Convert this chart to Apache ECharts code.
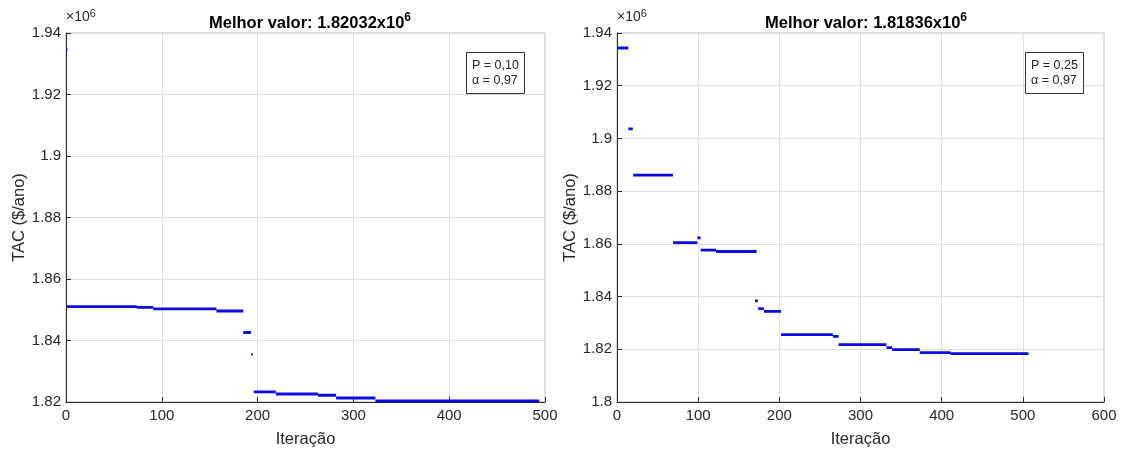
<!DOCTYPE html>
<html><head><meta charset="utf-8">
<script src="https://cdn.jsdelivr.net/npm/echarts@6/dist/echarts.min.js"></script>
<style>html,body{margin:0;padding:0;background:#fff}#c{width:1122px;height:453px}</style>
</head><body><div id="c"></div>
<script>
// Left run (P = 0,10): horizontal segments [start, end, value (x10^6)]
const leftStart = [0, 1, 74, 91, 157, 185, 193.5, 196, 219, 263, 282, 323];
const leftEnd   = [1.5, 74, 91, 157, 185, 193, 195, 219, 263, 282, 323, 494];
const leftVal   = [1.9345, 1.8510, 1.8508, 1.8503, 1.8496, 1.8426, 1.8355, 1.8233, 1.8226, 1.8222, 1.8213, 1.82032];
// Right run (P = 0,25)
const rightStart = [0, 14, 20, 69, 99, 103, 122, 170, 174, 181, 202, 266, 273, 332, 339, 373, 411];
const rightEnd   = [14, 19.5, 69, 99, 103, 122, 172, 173.5, 181, 202, 266, 273, 332, 339, 373, 411, 507];
const rightVal   = [1.9343, 1.9036, 1.8861, 1.8605, 1.8623, 1.8576, 1.8571, 1.8384, 1.8354, 1.8344, 1.8256, 1.8249, 1.8218, 1.8206, 1.8199, 1.8187, 1.81836];
// Axis ticks [min, max, interval]
const leftXTicks = [0, 500, 100];
const leftYTicks = [1.82, 1.94, 0.02];
const rightXTicks = [0, 600, 100];
const rightYTicks = [1.80, 1.94, 0.02];
const titles = ['1.82032', '1.81836'];
const boxes = ['P = 0,10\nα = 0,97', 'P = 0,25\nα = 0,97'];

function build(s, e, v) {
  const d = [];
  for (let i = 0; i < s.length; i++) {
    d.push([s[i], v[i]]);
    d.push([e[i], v[i]]);
    d.push([e[i], '-']);
  }
  return d;
}
const grids = [
  {left: 66, width: 479, top: 33, height: 373},
  {left: 617, width: 487, top: 33, height: 373}
];
const axisCol = '#262626';
const ff = 'Liberation Sans';
const fmt = v => String(parseFloat(v.toFixed(2)));
function xAx(i, t) {
  return {type: 'value', gridIndex: i, min: t[0], max: t[1], interval: t[2],
    name: 'Iteração', nameLocation: 'middle', nameGap: 29,
    nameTextStyle: {fontSize: 16.5, color: axisCol, fontFamily: ff},
    axisLine: {show: true, lineStyle: {color: axisCol, width: 1}},
    axisTick: {show: true, inside: true, length: 5, lineStyle: {color: axisCol}},
    axisLabel: {fontSize: 15, color: axisCol, margin: 6, fontFamily: ff},
    splitLine: {show: true, lineStyle: {color: '#dedede', width: 1}}};
}
function yAx(i, t) {
  return {type: 'value', gridIndex: i, min: t[0], max: t[1], interval: t[2],
    name: 'TAC ($/ano)', nameLocation: 'middle', nameGap: 38,
    nameTextStyle: {fontSize: 16.5, color: axisCol, fontFamily: ff},
    axisLine: {show: true, lineStyle: {color: axisCol, width: 1}},
    axisTick: {show: true, inside: true, length: 5, lineStyle: {color: axisCol}},
    axisLabel: {fontSize: 15, color: axisCol, margin: 5, formatter: fmt, fontFamily: ff},
    splitLine: {show: true, lineStyle: {color: '#dedede', width: 1}}};
}
const rich = {
  a: {fontSize: 16.5, fontWeight: 'bold', color: '#000', fontFamily: ff},
  s: {fontSize: 12, fontWeight: 'bold', color: '#000', fontFamily: ff, padding: [0, 0, 10, 0]},
  m: {fontSize: 14, fontWeight: 'normal', color: axisCol, fontFamily: ff},
  e: {fontSize: 11, fontWeight: 'normal', color: axisCol, fontFamily: ff, padding: [0, 0, 8, 0]}
};
const boxStyle = {fontSize: 12.5, fontWeight: 'normal', color: '#222', lineHeight: 15, fontFamily: ff};
const option = {
  animation: false,
  backgroundColor: '#fff',
  grid: grids.map(g => Object.assign({show: true, borderColor: '#bdbdbd', borderWidth: 1}, g)),
  title: [
    {text: '{a|Melhor valor: ' + titles[0] + 'x10}{s|6}', left: 305, top: 7, textAlign: 'center', textStyle: {rich}},
    {text: '{a|Melhor valor: ' + titles[1] + 'x10}{s|6}', left: 861, top: 7, textAlign: 'center', textStyle: {rich}},
    {text: '{m|×10}{e|6}', left: 66, top: 8, padding: 0, textStyle: {rich}},
    {text: '{m|×10}{e|6}', left: 617, top: 8, padding: 0, textStyle: {rich}},
    {text: boxes[0], left: 466, top: 52, padding: [6, 6, 6, 6], borderColor: '#333', borderWidth: 1, backgroundColor: '#fff',
      textStyle: boxStyle},
    {text: boxes[1], left: 1025, top: 52, padding: [6, 6, 6, 6], borderColor: '#333', borderWidth: 1, backgroundColor: '#fff',
      textStyle: boxStyle}
  ],
  xAxis: [xAx(0, leftXTicks), xAx(1, rightXTicks)],
  yAxis: [yAx(0, leftYTicks), yAx(1, rightYTicks)],
  series: [
    {type: 'line', xAxisIndex: 0, yAxisIndex: 0, data: build(leftStart, leftEnd, leftVal), showSymbol: false,
      connectNulls: false, lineStyle: {color: '#0b0be0', width: 2.8}, itemStyle: {color: '#0b0be0'}},
    {type: 'line', xAxisIndex: 1, yAxisIndex: 1, data: build(rightStart, rightEnd, rightVal), showSymbol: false,
      connectNulls: false, lineStyle: {color: '#0b0be0', width: 2.8}, itemStyle: {color: '#0b0be0'}}
  ]
};
echarts.init(document.getElementById('c')).setOption(option);
</script></body></html>
